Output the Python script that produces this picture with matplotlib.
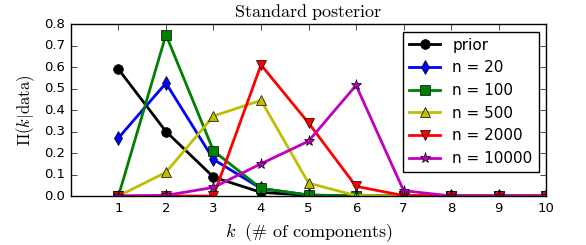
import matplotlib
matplotlib.use('Agg')
import matplotlib.pyplot as plt

# ================================
# Data
# ================================
k = [1, 2, 3, 4, 5, 6, 7, 8, 9, 10]
labels = ["prior", "n = 20", "n = 100", "n = 500", "n = 2000", "n = 10000"]
prior = [0.59, 0.30, 0.088, 0.017, 0.003, 0.0, 0.0, 0.0, 0.0, 0.0]
n20 = [0.27, 0.525, 0.17, 0.035, 0.004, 0.0, 0.0, 0.0, 0.0, 0.0]
n100 = [0.0, 0.75, 0.21, 0.035, 0.005, 0.0, 0.0, 0.0, 0.0, 0.0]
n500 = [0.0, 0.11, 0.372, 0.445, 0.06, 0.002, 0.0, 0.0, 0.0, 0.0]
n2000 = [0.0, 0.0, 0.0, 0.61, 0.34, 0.045, 0.002, 0.0, 0.0, 0.0]
n10000 = [0.0, 0.003, 0.04, 0.15, 0.255, 0.515, 0.025, 0.0, 0.0, 0.0]
series = [prior, n20, n100, n500, n2000, n10000]

colors = ['k', 'b', 'g', 'y', 'r', 'm']
markers = ['o', 'd', 's', '^', 'v', '*']

# ================================
# Plot
# ================================
plt.style.use('classic')
plt.rcParams['mathtext.fontset'] = 'cm'

fig = plt.figure(figsize=(5.86, 2.45), dpi=100)
ax = fig.add_axes([0.121, 0.2, 0.811, 0.702])

for ys, lab, c, m in zip(series, labels, colors, markers):
    ax.plot(k, ys, color=c, marker=m, lw=2, ms=7 if m != '*' else 8, label=lab)

ax.set_xlim(0, 10)
ax.set_ylim(0, 0.8)
ax.set_xticks(k)
ax.set_yticks([0.0, 0.1, 0.2, 0.3, 0.4, 0.5, 0.6, 0.7, 0.8])
ax.tick_params(labelsize=9.5)
ax.set_title(r'$\mathrm{Standard\ posterior}$', fontsize=13)
ax.set_xlabel(r'$k\ \ (\#\ \mathrm{of\ components})$', fontsize=13)
ax.set_ylabel(r'$\Pi(k|\mathrm{data})$', fontsize=12)
ax.legend(loc='upper right', numpoints=1, fontsize=11)

fig.savefig("out.png", dpi=100)
